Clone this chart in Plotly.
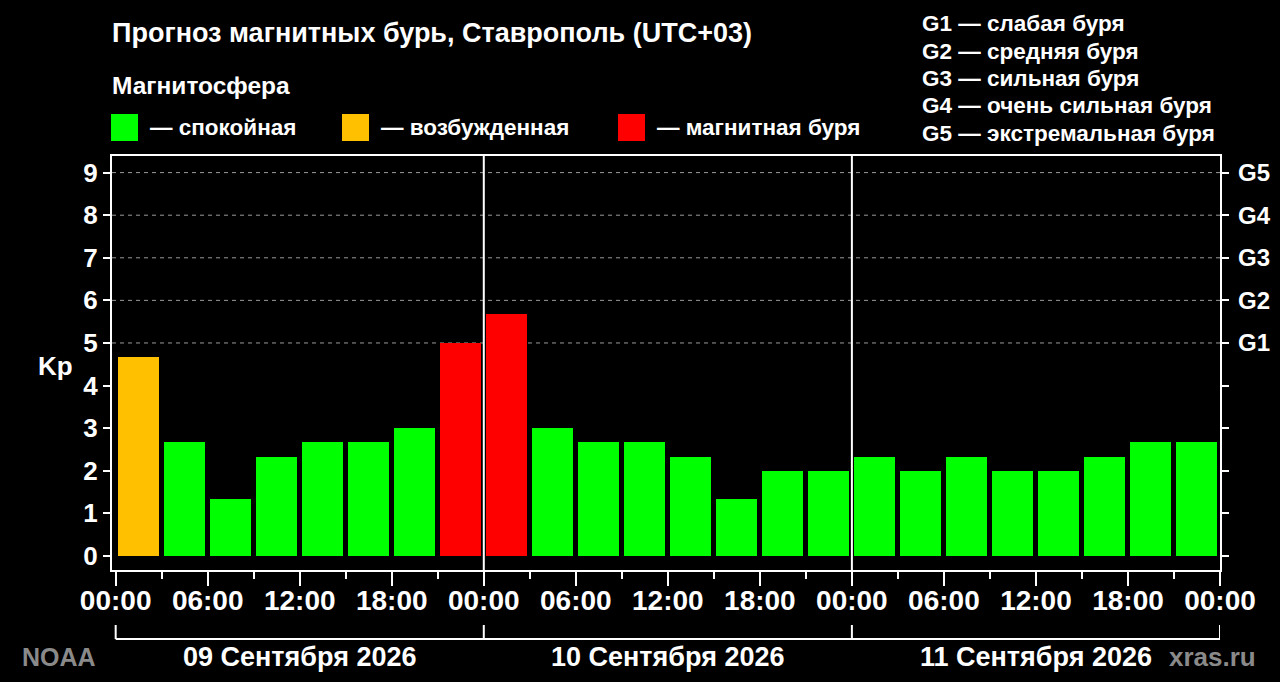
import pandas as pd
import plotly.graph_objects as go

# данные прогноза (Kp по трёхчасовым интервалам)
days = ["2026-09-09", "2026-09-10", "2026-09-11"]
day_labels = ["09 Сентября 2026", "10 Сентября 2026", "11 Сентября 2026"]
slots = ["00:00", "03:00", "06:00", "09:00", "12:00", "15:00", "18:00", "21:00"]
kp_day1 = [4.67, 2.67, 1.33, 2.33, 2.67, 2.67, 3.00, 5.00]
kp_day2 = [5.67, 3.00, 2.67, 2.67, 2.33, 1.33, 2.00, 2.00]
kp_day3 = [2.33, 2.00, 2.33, 2.00, 2.00, 2.33, 2.67, 2.67]
storm_levels = [5, 6, 7, 8, 9]
storm_names = ["G1", "G2", "G3", "G4", "G5"]
storm_desc = ["слабая буря", "средняя буря", "сильная буря",
              "очень сильная буря", "экстремальная буря"]
legend_items = ["— спокойная", "— возбужденная", "— магнитная буря"]

GREEN, ORANGE, RED = "#00ff00", "#ffc000", "#ff0000"
FONT = "Liberation Sans, Arial, sans-serif"
W, H = 1280, 682
L, R, T, B = 112, 1220, 156, 570  # plot area in px


def px_x(p):
    return (p - L) / (R - L)


def px_y(p):
    return (B - p) / (B - T)


times = [pd.Timestamp(f"{d} {s}") for d in days for s in slots]
kp = kp_day1 + kp_day2 + kp_day3
colors = [RED if v >= 5 else ORANGE if v >= 4 else GREEN for v in kp]

HOUR = 3600 * 1000
fig = go.Figure()
fig.add_trace(go.Bar(
    x=times, y=kp,
    offset=0.15 * HOUR, width=2.65 * HOUR,
    marker=dict(color=colors, line=dict(width=0)),
    showlegend=False, hoverinfo="skip",
))

t0 = pd.Timestamp(days[0])
x_start = t0 - pd.Timedelta(hours=0.24)
x_end = t0 + pd.Timedelta(hours=72)

fig.update_layout(
    width=W, height=H,
    margin=dict(l=L, r=W - R, t=T, b=H - B),
    paper_bgcolor="black", plot_bgcolor="black",
    font=dict(family=FONT, color="white", size=22),
    bargap=0,
    xaxis=dict(
        type="date", range=[x_start, x_end],
        tickformat="%H:%M", dtick=6 * HOUR, tick0=t0,
        ticks="outside", ticklen=14, tickwidth=2, tickcolor="white",
        ticklabelstandoff=-10,
        showline=True, linecolor="white", linewidth=2, mirror=True,
        showgrid=False, zeroline=False,
        tickfont=dict(size=28, family=FONT, weight="bold"),
        minor=dict(dtick=3 * HOUR, tick0=t0, ticks="outside", ticklen=7,
                   tickwidth=2, tickcolor="white", showgrid=False),
    ),
    yaxis=dict(
        range=[-0.33, 9.39], tickvals=list(range(10)),
        ticks="outside", ticklen=7, tickwidth=2, tickcolor="white",
        showline=True, linecolor="white", linewidth=2, mirror="ticks",
        showgrid=False, zeroline=False,
        tickfont=dict(size=26, family=FONT, weight="bold"),
    ),
)

# пунктирная сетка и подписи уровней бурь справа
for lv, name in zip(storm_levels, storm_names):
    fig.add_shape(type="line", xref="paper", yref="y", x0=0, x1=1, y0=lv, y1=lv,
                  line=dict(color="#9a9a9a", width=1, dash="4px,4px"), layer="below")
    fig.add_annotation(x=px_x(1236), xref="paper", y=lv, yref="y",
                       text=f"<b>{name}</b>", showarrow=False, xanchor="left",
                       yanchor="middle", font=dict(size=24))

# разделители суток и скобка под датами
bracket_y, bracket_top = px_y(639), px_y(625)
for i in range(len(days) + 1):
    t = t0 + pd.Timedelta(days=i)
    if 0 < i < len(days):
        fig.add_shape(type="line", xref="x", yref="paper", x0=t, x1=t, y0=0, y1=1,
                      line=dict(color="white", width=2))
    fig.add_shape(type="line", xref="x", yref="paper", x0=t, x1=t,
                  y0=bracket_y, y1=bracket_top, line=dict(color="white", width=2))
fig.add_shape(type="line", xref="x", yref="paper", x0=t0, x1=x_end,
              y0=bracket_y, y1=bracket_y, line=dict(color="white", width=2))

for i, lab in enumerate(day_labels):
    fig.add_annotation(x=t0 + pd.Timedelta(hours=24 * i + 12), xref="x",
                       y=px_y(657), yref="paper", text=f"<b>{lab}</b>",
                       showarrow=False, yanchor="middle", font=dict(size=27))


# подписи
def txt(x, y, text, size=22, color="white", anchor="left"):
    fig.add_annotation(x=px_x(x), y=px_y(y), xref="paper", yref="paper",
                       text=f"<b>{text}</b>", showarrow=False, xanchor=anchor,
                       yanchor="middle", font=dict(size=size, color=color))


txt(110, 33, "Прогноз магнитных бурь, Ставрополь (UTC+03)", size=27)
txt(110, 86, "Магнитосфера", size=24.5)
txt(55, 366, "Kp", size=26, anchor="center")
txt(20, 657, "NOAA", size=25, color="#8a8a8a")
txt(1258, 657, "xras.ru", size=26, color="#8a8a8a", anchor="right")

for j, (name, desc) in enumerate(zip(storm_names, storm_desc)):
    txt(920, 24 + 27.3 * j, f"{name} — {desc}", size=22.5)

legend_x = [111, 342, 618]
for col, lx, lab in zip([GREEN, ORANGE, RED], legend_x, legend_items):
    fig.add_shape(type="rect", xref="paper", yref="paper",
                  x0=px_x(lx), x1=px_x(lx + 27), y0=px_y(141), y1=px_y(114),
                  fillcolor=col, line=dict(width=0))
    txt(lx + 37, 128, lab, size=22.5)

fig.write_html(
    "out.html",
    config={"displayModeBar": False},
    post_script="document.body.style.margin='0';document.body.style.background='black';",
)
